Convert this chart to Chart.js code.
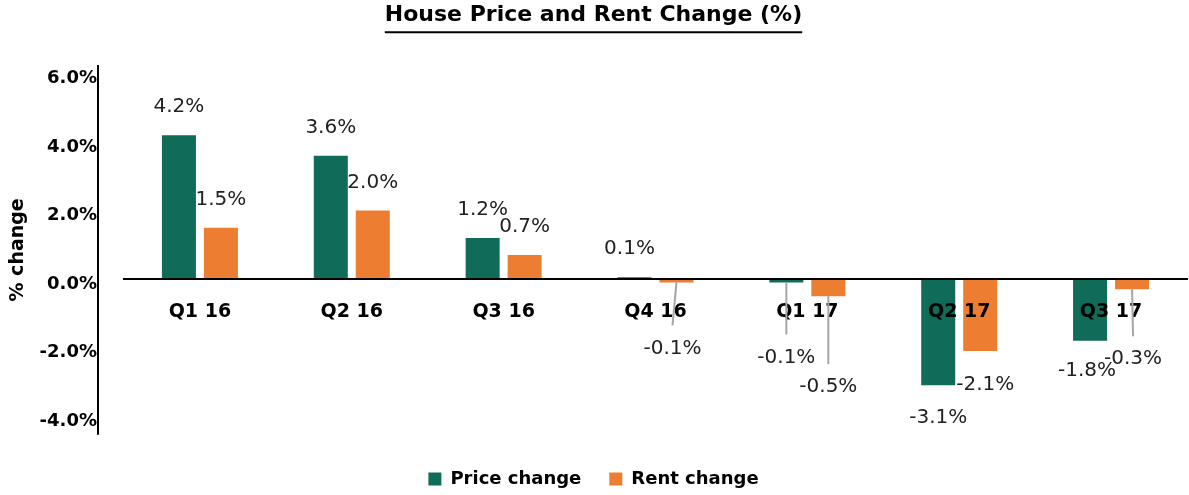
<!DOCTYPE html>
<html>
<head>
<meta charset="utf-8">
<script src="https://cdn.jsdelivr.net/npm/chart.js@4.4.0/dist/chart.umd.min.js"></script>
<style>
  html, body { margin: 0; padding: 0; background: #fff; }
  #wrap { width: 1189px; height: 495px; }
</style>
</head>
<body>
<div id="wrap"><canvas id="chart"></canvas></div>
<script>
'use strict';

// data
const categories = ['Q1 16', 'Q2 16', 'Q3 16', 'Q4 16', 'Q1 17', 'Q2 17', 'Q3 17'];
const priceChange = [4.2, 3.6, 1.2, 0.05, -0.1, -3.1, -1.8];
const rentChange = [1.5, 2.0, 0.7, -0.1, -0.5, -2.1, -0.3];
const yTicks = [-4, -2, 0, 2, 4, 6];

// small hand nudges for the data labels (dx, dy in px), like the Excel original
const priceNudge = [[0, 0], [0, 0], [0, 0], [-5, 0], [0, 45], [0, 3], [-3, 0]];
const rentNudge = [[0, 0], [0, 0], [0, 0], [-4, 36], [0, 61], [5, 4], [1, 40]];

const GREEN = '#106b58';
const ORANGE = '#ed7d31';
const FONT = '"DejaVu Sans", sans-serif';

// underline under the title
const titleUnderline = {
    id: 'titleUnderline',
    afterDraw(chart) {
        const tb = chart.titleBlock;
        if (!tb) return;
        const opts = chart.options.plugins.title;
        const ctx = chart.ctx;
        const size = opts.font.size;
        ctx.save();
        ctx.font = 'bold ' + size + 'px ' + FONT;
        const w = ctx.measureText(opts.text).width;
        const cx = (tb.left + tb.right) / 2;
        const y = tb.top + opts.padding.top + size * 1.2 / 2 + 17;
        ctx.strokeStyle = '#000';
        ctx.lineWidth = 2;
        ctx.beginPath();
        ctx.moveTo(cx - w / 2, y);
        ctx.lineTo(cx + w / 2, y);
        ctx.stroke();
        ctx.restore();
    }
};

// vertical axis line, sitting a little left of the plot like the original
const yAxisLine = {
    id: 'yAxisLine',
    afterDraw(chart) {
        const area = chart.chartArea;
        const ctx = chart.ctx;
        ctx.save();
        ctx.strokeStyle = '#000';
        ctx.lineWidth = 2;
        ctx.beginPath();
        ctx.moveTo(area.left - 26, area.top);
        ctx.lineTo(area.left - 26, area.bottom);
        ctx.stroke();
        ctx.restore();
    }
};

// value labels with leader lines (drawn last, over the category labels)
const valueLabels = {
    id: 'valueLabels',
    afterDraw(chart) {
        const ctx = chart.ctx;
        const nudges = [priceNudge, rentNudge];
        ctx.save();
        chart.data.datasets.forEach((ds, di) => {
            const meta = chart.getDatasetMeta(di);
            meta.data.forEach((bar, i) => {
                const v = ds.data[i];
                const [dx, dy] = nudges[di][i];
                const x = bar.x + dx;
                const y = (v >= 0 ? bar.y - 28 : bar.y + 30) + dy;
                if (dy > 20) {
                    ctx.strokeStyle = '#a6a6a6';
                    ctx.lineWidth = 2;
                    ctx.beginPath();
                    ctx.moveTo(bar.x, bar.y);
                    ctx.lineTo(x, y - 23);
                    ctx.stroke();
                }
                ctx.fillStyle = '#222';
                ctx.font = '20px ' + FONT;
                ctx.textAlign = 'center';
                ctx.textBaseline = 'middle';
                ctx.fillText(v.toFixed(1) + '%', x, y);
            });
        });
        ctx.restore();
    }
};

const ctx = document.getElementById('chart').getContext('2d');
new Chart(ctx, {
    type: 'bar',
    data: {
        labels: categories,
        datasets: [
            { label: 'Price change', data: priceChange, backgroundColor: GREEN },
            { label: 'Rent change', data: rentChange, backgroundColor: ORANGE }
        ]
    },
    options: {
        responsive: true,
        maintainAspectRatio: false,
        animation: false,
        datasets: { bar: { categoryPercentage: 0.553, barPercentage: 0.81 } },
        layout: { padding: { left: 0, right: 2, top: 0, bottom: -3 } },
        scales: {
            x: {
                position: { y: 0 },
                grid: { display: false, drawTicks: false },
                border: { display: true, color: '#000', width: 2, z: 1 },
                ticks: {
                    z: 1,
                    color: '#000',
                    padding: 22,
                    font: { family: FONT, size: 19, weight: 'bold' }
                }
            },
            y: {
                min: -4.55,
                max: 6.25,
                afterBuildTicks(scale) {
                    scale.ticks = yTicks.map(v => ({ value: v }));
                },
                afterFit(scale) {
                    scale.width = 124;
                },
                grid: { display: false, drawTicks: false },
                border: { display: false },
                ticks: {
                    color: '#000',
                    padding: 27,
                    labelOffset: 5,
                    font: { family: FONT, size: 18, weight: 'bold' },
                    callback: v => v.toFixed(1) + '%'
                },
                title: {
                    display: true,
                    text: '% change',
                    color: '#000',
                    padding: { top: 7, bottom: 0 },
                    font: { family: FONT, size: 19, weight: 'bold' }
                }
            }
        },
        plugins: {
            title: {
                display: true,
                text: 'House Price and Rent Change (%)',
                color: '#000',
                padding: { top: 2, bottom: 36.6 },
                font: { family: FONT, size: 22, weight: 'bold' }
            },
            legend: {
                position: 'bottom',
                title: { display: true, text: '', padding: 0, font: { size: 6 } },
                labels: {
                    color: '#000',
                    boxWidth: 13,
                    boxHeight: 13,
                    padding: 28,
                    font: { family: FONT, size: 18, weight: 'bold' }
                }
            },
            tooltip: { enabled: false }
        }
    },
    plugins: [titleUnderline, yAxisLine, valueLabels]
});
</script>
</body>
</html>
